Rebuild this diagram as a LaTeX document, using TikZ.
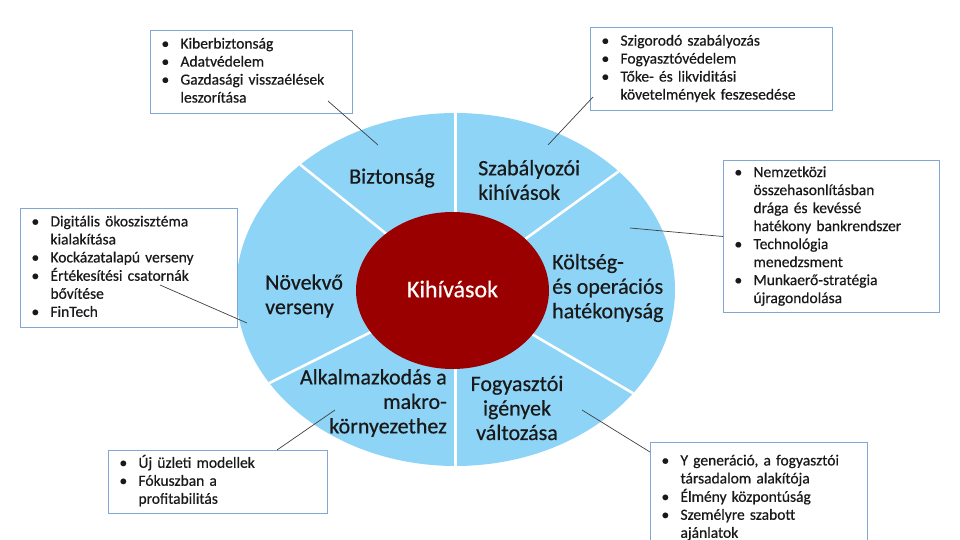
\documentclass[tikz,border=0pt]{standalone}
\usepackage{fontspec}
\setmainfont{Carlito}[FakeBold=0.5]
\definecolor{segblue}{RGB}{142,212,247}
\definecolor{corered}{RGB}{155,0,0}
\definecolor{boxline}{RGB}{128,168,210}
\definecolor{inktext}{RGB}{25,25,25}
\newcommand{\bul}{\hspace*{4pt}\textbullet}

\begin{document}
\begin{tikzpicture}[x=1pt, y=-1pt, font=\fontsize{15.5}{18}\selectfont, text=inktext,
  infobox/.style={draw=boxline, line width=1pt, anchor=north west, align=left, inner xsep=7pt, inner ysep=0pt, fill=white},
  seglabel/.style={font=\fontsize{22}{24.5}\selectfont, inner sep=0pt},
  divider/.style={draw=white, line width=2.6pt},
  link/.style={draw=black!75, line width=0.7pt}]
\useasboundingbox (0,0) rectangle (960,540);
% ring and core
\coordinate (ctr) at (455.5,289.5);
\fill[segblue] (ctr) ellipse [x radius=219.5pt, y radius=176.5pt];
\foreach \a in {42,90,135,212,270,324}
  \draw[divider] (ctr) -- ++(\a:219.5pt and 176.5pt);
\fill[corered] (452.5,290.5) ellipse [x radius=96.5pt, y radius=78.5pt];
\node[font=\fontsize{24}{28}\selectfont, text=white] (kihiv) at (452.5,289) {Kihívások};
% segment labels
\node[seglabel] (biz) at (392,178) {Biztonság};
\node[seglabel, anchor=west, align=left] (szab) at (478,180) {Szabályozói\\kihívások};
\node[seglabel, anchor=west, align=left] (kolt) at (552,288) {Költség-\\és operációs\\hatékonyság};
\node[seglabel, anchor=west, align=left] (novek) at (265,296) {Növekvő\\verseny};
\node[seglabel, anchor=east, align=right] (alkalm) at (447,403) {Alkalmazkodás a\\makro-\\környezethez};
\node[seglabel, align=center] (fogy) at (517,408) {Fogyasztói\\igények\\változása};
% boxes
\node[infobox, text width=188pt, minimum height=83pt] (kiber) at (150,30) {\begin{tabular}{@{}p{23pt}@{}l@{}}
  \bul & Kiberbiztonság\\ \bul & Adatvédelem\\ \bul & Gazdasági visszaélések\\ & leszorítása\end{tabular}};
\node[infobox, text width=228pt, minimum height=83pt] (szig) at (590,27) {\begin{tabular}{@{}p{23pt}@{}l@{}}
  \bul & Szigorodó szabályozás\\ \bul & Fogyasztóvédelem\\ \bul & Tőke- és likviditási\\ & követelmények feszesedése\end{tabular}};
\node[infobox, text width=202pt, minimum height=152pt] (nemz) at (723,160) {\begin{tabular}{@{}p{23pt}@{}l@{}}
  \bul & Nemzetközi\\ & összehasonlításban\\ & drága és kevéssé\\ & hatékony bankrendszer\\
  \bul & Technológia\\ & menedzsment\\ \bul & Munkaerő-stratégia\\ & újragondolása\end{tabular}};
\node[infobox, text width=203pt, minimum height=119pt] (digit) at (20,208) {\begin{tabular}{@{}p{23pt}@{}l@{}}
  \bul & Digitális ökoszisztéma\\ & kialakítása\\ \bul & Kockázatalapú verseny\\ \bul & Értékesítési csatornák\\ & bővítése\\ \bul & FinTech\end{tabular}};
\node[infobox, text width=205pt, minimum height=63pt] (ujuzl) at (108,450) {\begin{tabular}{@{}p{23pt}@{}l@{}}
  \bul & Új üzleti modellek\\ \bul & Fókuszban a\\ & profitabilitás\end{tabular}};
\node[infobox, text width=203pt, minimum height=111pt] (ygen) at (650,442) {\begin{tabular}{@{}p{23pt}@{}l@{}}
  \bul & Y generáció, a fogyasztói\\ & társadalom alakítója\\ \bul & Élmény központúság\\ \bul & Személyre szabott\\ & ajánlatok\end{tabular}};
% connectors
\coordinate (kiber-pt) at (328,101);
\coordinate (biz-pt) at (378,145);
\coordinate (szig-pt) at (593,97);
\coordinate (szab-pt) at (548,145);
\coordinate (kolt-pt) at (630,228);
\coordinate (digit-pt) at (160,285);
\coordinate (novek-pt) at (247,323);
\coordinate (ujuzl-pt) at (277,450);
\coordinate (alkalm-pt) at (335,410);
\coordinate (fogy-pt) at (582,410);
\coordinate (ygen-pt) at (650,452);
\draw[link] (kiber-pt) -- (biz-pt);
\draw[link] (szig-pt) -- (szab-pt);
\draw[link] (kolt-pt) -- (nemz.west);
\draw[link] (digit-pt) -- (novek-pt);
\draw[link] (ujuzl-pt) -- (alkalm-pt);
\draw[link] (fogy-pt) -- (ygen-pt);
\end{tikzpicture}
\end{document}
